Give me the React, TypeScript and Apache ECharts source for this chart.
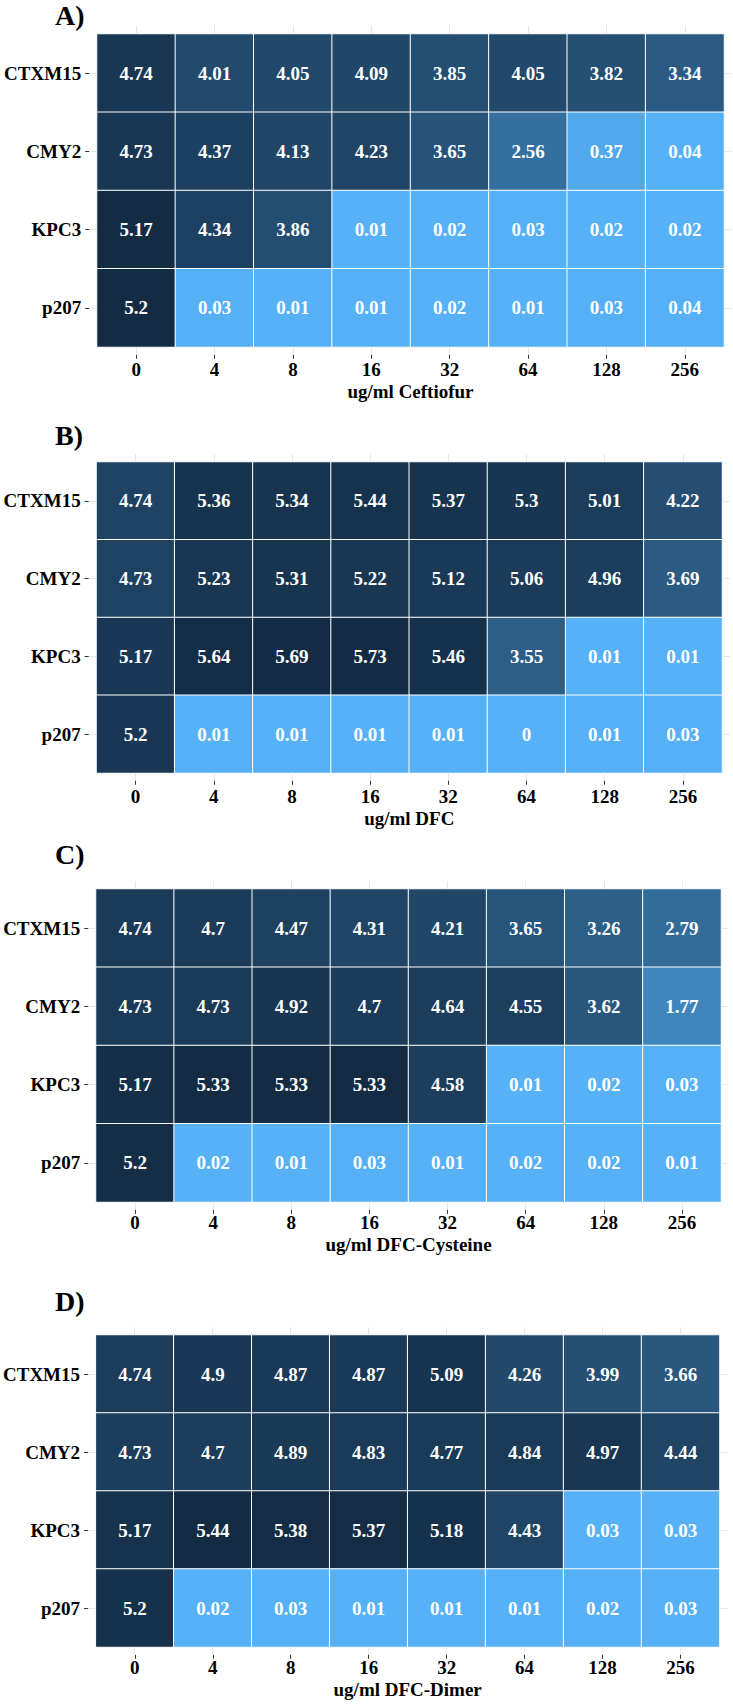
import React, { useEffect, useRef } from "react";
import * as echarts from "echarts";

// ---------- data ----------
const doses = ["0", "4", "8", "16", "32", "64", "128", "256"];
const strains = ["CTXM15", "CMY2", "KPC3", "p207"];
const panelLetters = ["A)", "B)", "C)", "D)"];
const xTitles = ["ug/ml Ceftiofur", "ug/ml DFC", "ug/ml DFC-Cysteine", "ug/ml DFC-Dimer"];

// rows follow `strains`, columns follow `doses`
const ceftiofur = [
  [4.74, 4.01, 4.05, 4.09, 3.85, 4.05, 3.82, 3.34],
  [4.73, 4.37, 4.13, 4.23, 3.65, 2.56, 0.37, 0.04],
  [5.17, 4.34, 3.86, 0.01, 0.02, 0.03, 0.02, 0.02],
  [5.2, 0.03, 0.01, 0.01, 0.02, 0.01, 0.03, 0.04],
];
const dfc = [
  [4.74, 5.36, 5.34, 5.44, 5.37, 5.3, 5.01, 4.22],
  [4.73, 5.23, 5.31, 5.22, 5.12, 5.06, 4.96, 3.69],
  [5.17, 5.64, 5.69, 5.73, 5.46, 3.55, 0.01, 0.01],
  [5.2, 0.01, 0.01, 0.01, 0.01, 0, 0.01, 0.03],
];
const dfcCysteine = [
  [4.74, 4.7, 4.47, 4.31, 4.21, 3.65, 3.26, 2.79],
  [4.73, 4.73, 4.92, 4.7, 4.64, 4.55, 3.62, 1.77],
  [5.17, 5.33, 5.33, 5.33, 4.58, 0.01, 0.02, 0.03],
  [5.2, 0.02, 0.01, 0.03, 0.01, 0.02, 0.02, 0.01],
];
const dfcDimer = [
  [4.74, 4.9, 4.87, 4.87, 5.09, 4.26, 3.99, 3.66],
  [4.73, 4.7, 4.89, 4.83, 4.77, 4.84, 4.97, 4.44],
  [5.17, 5.44, 5.38, 5.37, 5.18, 4.43, 0.03, 0.03],
  [5.2, 0.02, 0.03, 0.01, 0.01, 0.01, 0.02, 0.03],
];
const panelsData = [ceftiofur, dfc, dfcCysteine, dfcDimer];

// ---------- layout / style ----------
const W = 733;
const H = 1704;
const FONT = '"Liberation Serif", "Times New Roman", serif';
const LOW = "#56B1F7";
const HIGH = "#132B43";
const layouts = [
  { left: 97, right: 724, top: 34, bottom: 347, letterY: 15, labelMargin: 5, nameGap: 27 },
  { left: 96.5, right: 722, top: 462, bottom: 773, letterY: 435, labelMargin: 6, nameGap: 28 },
  { left: 96, right: 721, top: 889, bottom: 1202, letterY: 854, labelMargin: 3, nameGap: 25 },
  { left: 95.7, right: 719.5, top: 1335, bottom: 1647, letterY: 1301, labelMargin: 3, nameGap: 25 },
];
// ggplot-like panel expansion: 0.1 tile beyond the tiles on each side
const EXP = 0.1;
// fine positions (tenths of a tile) spanning the expanded panel, for the panel grid lines
const fineX = Array.from({ length: (doses.length + 2 * EXP) * 10 + 1 }, (_, i) => String(i));
const fineY = Array.from({ length: (strains.length + 2 * EXP) * 10 + 1 }, (_, i) => String(i));
const isCenter = (idx: number) => idx % 10 === EXP * 10 + 5;

function buildOption() {
  const grid: any[] = [];
  const xAxis: any[] = [];
  const yAxis: any[] = [];
  const series: any[] = [];
  const visualMap: any[] = [];
  const graphic: any[] = [];

  panelsData.forEach((mat, p) => {
    const L = layouts[p];
    const w = L.right - L.left;
    const h = L.bottom - L.top;
    const ex = (w / doses.length) * EXP;
    const ey = (h / strains.length) * EXP;

    // background panel (grid lines)
    grid.push({ left: L.left - ex, top: L.top - ey, width: w + 2 * ex, height: h + 2 * ey, containLabel: false });
    const bg = grid.length - 1;
    xAxis.push({
      gridIndex: bg, type: "category", boundaryGap: false, data: fineX,
      axisLine: { show: false }, axisTick: { show: false }, axisLabel: { show: false },
      splitLine: { show: true, interval: (i: number) => isCenter(i), lineStyle: { color: "#e6e6e6", width: 1 } },
    });
    yAxis.push({
      gridIndex: bg, type: "category", boundaryGap: false, data: fineY,
      axisLine: { show: false }, axisTick: { show: false }, axisLabel: { show: false },
      splitLine: { show: true, interval: (i: number) => isCenter(i), lineStyle: { color: "#e6e6e6", width: 1 } },
    });

    // heatmap grid
    grid.push({ left: L.left, top: L.top, width: w, height: h, containLabel: false });
    const hg = grid.length - 1;
    xAxis.push({
      gridIndex: hg, type: "category", data: doses, offset: ey,
      axisLine: { show: false },
      axisTick: { show: true, alignWithLabel: true, length: 4, lineStyle: { color: "#333", width: 1 } },
      axisLabel: { margin: L.labelMargin, color: "#000", fontFamily: FONT, fontWeight: "bold", fontSize: 19 },
      splitLine: { show: false },
      name: xTitles[p], nameLocation: "middle", nameGap: L.nameGap,
      nameTextStyle: { color: "#000", fontFamily: FONT, fontWeight: "bold", fontSize: 19 },
    });
    yAxis.push({
      gridIndex: hg, type: "category", data: strains, inverse: true, offset: ex,
      axisLine: { show: false },
      axisTick: { show: true, alignWithLabel: true, length: 4, lineStyle: { color: "#333", width: 1 } },
      axisLabel: { margin: 8, color: "#000", fontFamily: FONT, fontWeight: "bold", fontSize: 19 },
      splitLine: { show: false },
    });

    const data: any[] = [];
    mat.forEach((row, r) => row.forEach((v, c) => data.push([c, r, v])));
    const vals = mat.flat();
    series.push({
      type: "heatmap", xAxisIndex: hg, yAxisIndex: hg, data,
      itemStyle: { borderColor: "#ffffff", borderWidth: 1 },
      label: {
        show: true, color: "#ffffff", fontFamily: FONT, fontWeight: "bold", fontSize: 19,
        formatter: (prm: any) => String(prm.value[2]),
      },
      emphasis: { disabled: true },
    });
    visualMap.push({
      show: false, seriesIndex: p, dimension: 2,
      min: Math.min(...vals), max: Math.max(...vals),
      inRange: { color: [LOW, HIGH] },
    });

    graphic.push({
      type: "text", x: 55, y: L.letterY,
      style: { text: panelLetters[p], fill: "#000", font: `bold 28px ${FONT}`, verticalAlign: "middle", align: "left" },
    });
  });

  return {
    animation: false,
    backgroundColor: "#ffffff",
    grid, xAxis, yAxis, series, visualMap, graphic,
  };
}

export default function App() {
  const ref = useRef<HTMLDivElement>(null);
  useEffect(() => {
    if (!ref.current) return;
    const chart = echarts.init(ref.current, undefined, { renderer: "svg" });
    chart.setOption(buildOption());
    return () => chart.dispose();
  }, []);
  return <div ref={ref} style={{ position: "absolute", left: 0, top: 0, width: W, height: H }} />;
}
